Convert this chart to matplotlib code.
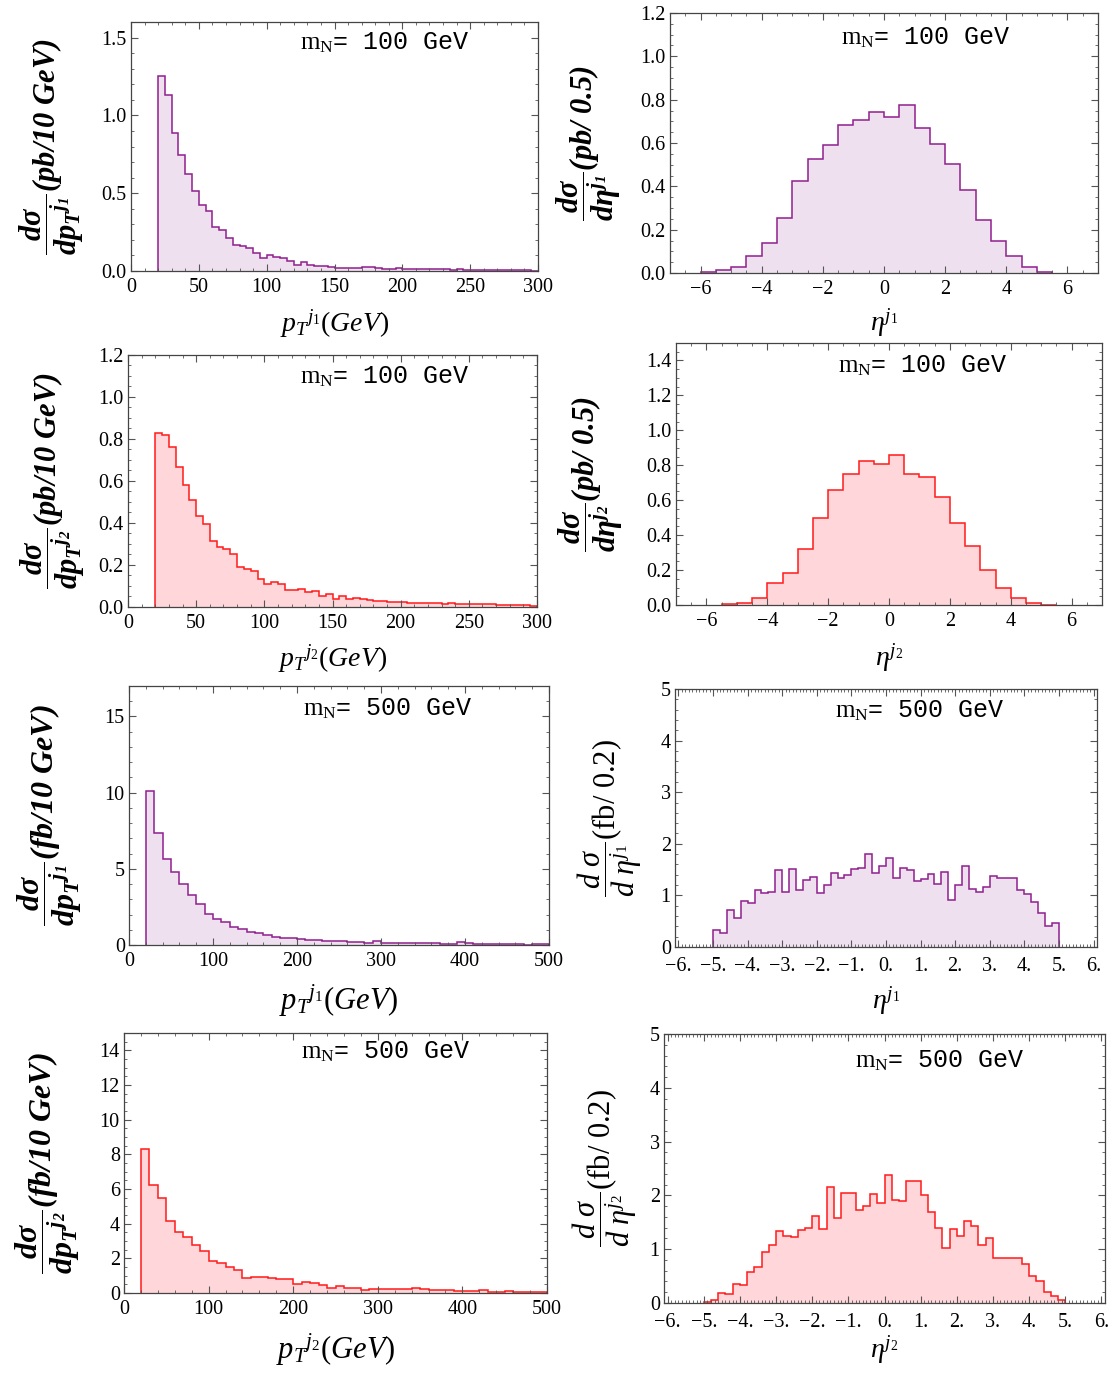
import numpy as np
import matplotlib
matplotlib.use("Agg")
import matplotlib.pyplot as plt
from matplotlib.ticker import MultipleLocator, FuncFormatter, FormatStrFormatter

plt.rcParams['font.family'] = ['Liberation Serif', 'DejaVu Serif']
plt.rcParams['mathtext.fontset'] = 'custom'
plt.rcParams['mathtext.rm'] = 'Liberation Serif'
plt.rcParams['mathtext.it'] = 'Liberation Serif:italic'
plt.rcParams['mathtext.bf'] = 'Liberation Serif:bold'
plt.rcParams['mathtext.bfit'] = 'Liberation Serif:bold:italic'

# ---------------- data ----------------
pt_edges_100 = np.arange(20, 305, 5)      # 5 GeV bins, 20-300
pt_edges_500 = np.arange(20, 510, 10)     # 10 GeV bins, 20-500
eta_edges_j1_100 = np.arange(-6.0, 5.75, 0.5)
eta_edges_j2_100 = np.arange(-5.5, 5.75, 0.5)
eta_edges_500 = np.round(np.arange(-5.0, 5.1, 0.2), 2)

pt_j1_100 = [1.255, 1.128, 0.887, 0.747, 0.626, 0.511, 0.426, 0.383, 0.285, 0.266,
             0.209, 0.170, 0.160, 0.145, 0.113, 0.081, 0.102, 0.091, 0.083, 0.064,
             0.038, 0.055, 0.038, 0.034, 0.032, 0.028, 0.017, 0.019, 0.021, 0.021,
             0.025, 0.023, 0.017, 0.015, 0.014, 0.017, 0.015, 0.013, 0.014, 0.012,
             0.011, 0.013, 0.010, 0.009, 0.011, 0.008, 0.009, 0.007, 0.006, 0.008,
             0.006, 0.005, 0.004, 0.006, 0.004, 0.003]
pt_j2_100 = [0.829, 0.821, 0.763, 0.668, 0.581, 0.511, 0.433, 0.397, 0.316, 0.287,
             0.276, 0.254, 0.192, 0.181, 0.171, 0.133, 0.110, 0.117, 0.110, 0.079,
             0.081, 0.084, 0.070, 0.078, 0.052, 0.060, 0.037, 0.051, 0.040, 0.043,
             0.037, 0.033, 0.030, 0.029, 0.026, 0.022, 0.024, 0.021, 0.020, 0.019,
             0.017, 0.018, 0.015, 0.017, 0.016, 0.014, 0.015, 0.013, 0.015, 0.012,
             0.010, 0.011, 0.009, 0.008, 0.009, 0.007]
eta_j1_100 = [0.003, 0.012, 0.027, 0.078, 0.139, 0.255, 0.424, 0.524, 0.589, 0.685,
              0.705, 0.743, 0.721, 0.777, 0.669, 0.597, 0.501, 0.385, 0.244, 0.147,
              0.078, 0.027, 0.006]
eta_j2_100 = [0.004, 0.013, 0.042, 0.126, 0.185, 0.319, 0.500, 0.657, 0.749, 0.827,
              0.806, 0.856, 0.749, 0.731, 0.617, 0.470, 0.338, 0.199, 0.099, 0.042,
              0.013, 0.002]
pt_j1_500 = [10.12, 7.34, 5.67, 4.82, 3.99, 3.28, 2.67, 2.04, 1.73, 1.51,
             1.18, 1.07, 0.88, 0.77, 0.64, 0.55, 0.44, 0.46, 0.39, 0.33,
             0.35, 0.28, 0.28, 0.28, 0.20, 0.22, 0.15, 0.24, 0.15, 0.15,
             0.13, 0.11, 0.11, 0.13, 0.13, 0.09, 0.09, 0.20, 0.11, 0.07,
             0.05, 0.06, 0.05, 0.04, 0.05, 0.03, 0.06, 0.04]
pt_j2_500 = [8.29, 6.23, 5.49, 4.14, 3.51, 3.24, 2.76, 2.42, 1.84, 1.75,
             1.50, 1.34, 0.84, 0.92, 0.90, 0.84, 0.81, 0.79, 0.50, 0.63,
             0.58, 0.46, 0.29, 0.40, 0.29, 0.31, 0.15, 0.23, 0.23, 0.23,
             0.23, 0.25, 0.31, 0.23, 0.17, 0.15, 0.15, 0.12, 0.10, 0.13,
             0.15, 0.08, 0.08, 0.13, 0.06, 0.06, 0.06, 0.06]
eta_j1_500 = [0.32, 0.28, 0.72, 0.56, 0.89, 0.85, 1.10, 1.05, 1.07, 1.49,
              1.07, 1.52, 1.10, 1.30, 1.35, 1.04, 1.20, 1.43, 1.33, 1.39,
              1.52, 1.54, 1.81, 1.43, 1.57, 1.72, 1.34, 1.54, 1.49, 1.27,
              1.32, 1.41, 1.22, 1.45, 0.92, 1.20, 1.57, 1.13, 1.06, 1.16,
              1.37, 1.33, 1.33, 1.33, 1.10, 1.02, 0.88, 0.65, 0.41, 0.47]
eta_j2_500 = [0.02, 0.06, 0.18, 0.16, 0.36, 0.33, 0.57, 0.67, 0.95, 1.08,
              1.34, 1.24, 1.22, 1.36, 1.39, 1.61, 1.37, 2.16, 1.58, 2.04,
              2.05, 1.73, 1.81, 2.02, 1.86, 2.37, 1.92, 1.90, 2.27, 2.27,
              2.00, 1.70, 1.39, 1.02, 1.37, 1.24, 1.52, 1.43, 1.08, 1.21,
              0.83, 0.83, 0.83, 0.83, 0.73, 0.51, 0.40, 0.20, 0.13, 0.06]

mass_labels = ["100", "100", "100", "100", "500", "500", "500", "500"]

PURPLE_EDGE, PURPLE_FILL = '#901F8E', '#EFE0EF'
RED_EDGE, RED_FILL = '#FF1A1A', '#FFD6D9'

W, H = 1116, 1374
fig = plt.figure(figsize=(W / 100, H / 100), dpi=100)


def add_ax(l, r, t, b):
    return fig.add_axes([l / W, 1 - b / H, (r - l) / W, (b - t) / H])


def style(ax, xmaj, xmin, ymaj, ymin, xpad=5):
    ax.xaxis.set_major_locator(MultipleLocator(xmaj))
    ax.xaxis.set_minor_locator(MultipleLocator(xmin))
    ax.yaxis.set_major_locator(MultipleLocator(ymaj))
    ax.yaxis.set_minor_locator(MultipleLocator(ymin))
    ax.tick_params(which='both', direction='in', top=True, right=True,
                   colors='#555555', labelcolor='black', labelsize=14.5)
    ax.tick_params(which='major', length=5, width=0.8)
    ax.tick_params(which='minor', length=2.5, width=0.6)
    ax.tick_params(axis='y', pad=3)
    ax.tick_params(axis='x', pad=xpad)
    for s in ax.spines.values():
        s.set_color('#444444')
        s.set_linewidth(0.9)


def hist(ax, edges, vals, edge, fill):
    ax.stairs(vals, edges, fill=True, color=fill, linewidth=0)
    ax.stairs(vals, edges, baseline=0, color=edge, linewidth=1.1)


def mass(ax, x, y, m):
    ax.text(x, y, r"$\mathrm{m_N}$= " + m + " GeV", transform=ax.transAxes,
            ha='center', va='center', family=['Liberation Mono', 'DejaVu Sans Mono'],
            fontsize=18)


def ylab(ax, txt, x, size=21):
    ax.set_ylabel(txt, fontsize=size)
    ax.yaxis.set_label_coords(x, 0.5)
    ax.yaxis.label.set_va('center')


def xlab(ax, txt, y, size=20):
    ax.set_xlabel(txt, fontsize=size)
    ax.xaxis.set_label_coords(0.5, y)
    ax.xaxis.label.set_va('center')


dotfmt = FuncFormatter(lambda v, p: ("%d." % round(v)).replace('-', '\u2212'))

# Panel 1
ax = add_ax(131, 538, 22, 271)
hist(ax, pt_edges_100, pt_j1_100, PURPLE_EDGE, PURPLE_FILL)
ax.set_xlim(0, 300); ax.set_ylim(0, 1.6)
style(ax, 50, 10, 0.5, 0.1)
ax.yaxis.set_major_formatter(FormatStrFormatter('%.1f'))
ylab(ax, r"$\mathbfit{\dfrac{d\sigma}{d{p_T}^{j_1}}(pb/10\ GeV)}$", -0.195, size=22)
xlab(ax, r"${p_T}^{j_1}(GeV)$", -0.21)
mass(ax, 0.624, 0.916, mass_labels[0])

# Panel 2
ax = add_ax(670, 1098, 13, 273)
hist(ax, eta_edges_j1_100, eta_j1_100, PURPLE_EDGE, PURPLE_FILL)
ax.set_xlim(-7, 7); ax.set_ylim(0, 1.2)
style(ax, 2, 0.5, 0.2, 0.05)
ax.yaxis.set_major_formatter(FormatStrFormatter('%.1f'))
ylab(ax, r"$\mathbfit{\dfrac{d\sigma}{d\eta^{j_1}}(pb/\ 0.5)}$", -0.19, size=22)
xlab(ax, r"$\eta^{j_1}$", -0.19)
mass(ax, 0.597, 0.904, mass_labels[1])

# Panel 3
ax = add_ax(128, 537, 355, 607)
hist(ax, pt_edges_100, pt_j2_100, RED_EDGE, RED_FILL)
ax.set_xlim(0, 300); ax.set_ylim(0, 1.2)
style(ax, 50, 10, 0.2, 0.05)
ax.yaxis.set_major_formatter(FormatStrFormatter('%.1f'))
ylab(ax, r"$\mathbfit{\dfrac{d\sigma}{d{p_T}^{j_2}}(pb/10\ GeV)}$", -0.185, size=22)
xlab(ax, r"${p_T}^{j_2}(GeV)$", -0.205)
mass(ax, 0.628, 0.912, mass_labels[2])

# Panel 4
ax = add_ax(676, 1102, 343, 605)
hist(ax, eta_edges_j2_100, eta_j2_100, RED_EDGE, RED_FILL)
ax.set_xlim(-7, 7); ax.set_ylim(0, 1.5)
style(ax, 2, 0.5, 0.2, 0.05)
ax.yaxis.set_major_formatter(FormatStrFormatter('%.1f'))
ylab(ax, r"$\mathbfit{\dfrac{d\sigma}{d\eta^{j_2}}(pb/\ 0.5)}$", -0.2, size=22)
xlab(ax, r"$\eta^{j_2}$", -0.2)
mass(ax, 0.58, 0.912, mass_labels[3])

# Panel 5
ax = add_ax(129, 549, 686, 945)
hist(ax, pt_edges_500, pt_j1_500, PURPLE_EDGE, PURPLE_FILL)
ax.set_xlim(0, 500); ax.set_ylim(0, 17)
style(ax, 100, 20, 5, 1)
ylab(ax, r"$\mathbfit{\dfrac{d\sigma}{d{p_T}^{j_1}}(fb/10\ GeV)}$", -0.19, size=23)
xlab(ax, r"${p_T}^{j_1}(GeV)$", -0.215, size=22)
mass(ax, 0.617, 0.911, mass_labels[4])

# Panel 6
ax = add_ax(675, 1097, 689, 947)
hist(ax, eta_edges_500, eta_j1_500, PURPLE_EDGE, PURPLE_FILL)
ax.set_xlim(-6.1, 6.1); ax.set_ylim(0, 5)
style(ax, 1, 0.1, 1, 0.2, xpad=7)
ax.xaxis.set_major_formatter(dotfmt)
ylab(ax, r"$\dfrac{d\ \sigma}{d\ \eta^{j_1}}$(fb/ 0.2)", -0.155, size=22)
xlab(ax, r"$\eta^{j_1}$", -0.21)
mass(ax, 0.58, 0.915, mass_labels[5])

# Panel 7
ax = add_ax(124, 547, 1033, 1293)
hist(ax, pt_edges_500, pt_j2_500, RED_EDGE, RED_FILL)
ax.set_xlim(0, 500); ax.set_ylim(0, 15)
style(ax, 100, 20, 2, 0.5)
ylab(ax, r"$\mathbfit{\dfrac{d\sigma}{d{p_T}^{j_2}}(fb/10\ GeV)}$", -0.18, size=23)
xlab(ax, r"${p_T}^{j_2}(GeV)$", -0.22, size=22)
mass(ax, 0.62, 0.927, mass_labels[6])

# Panel 8
ax = add_ax(664, 1105, 1034, 1303)
hist(ax, eta_edges_500, eta_j2_500, RED_EDGE, RED_FILL)
ax.set_xlim(-6.1, 6.1); ax.set_ylim(0, 5)
style(ax, 1, 0.1, 1, 0.2, xpad=7)
ax.xaxis.set_major_formatter(dotfmt)
ylab(ax, r"$\dfrac{d\ \sigma}{d\ \eta^{j_2}}$(fb/ 0.2)", -0.135, size=22)
xlab(ax, r"$\eta^{j_2}$", -0.175)
mass(ax, 0.626, 0.9, mass_labels[7])

fig.savefig("out.png", dpi=100)
